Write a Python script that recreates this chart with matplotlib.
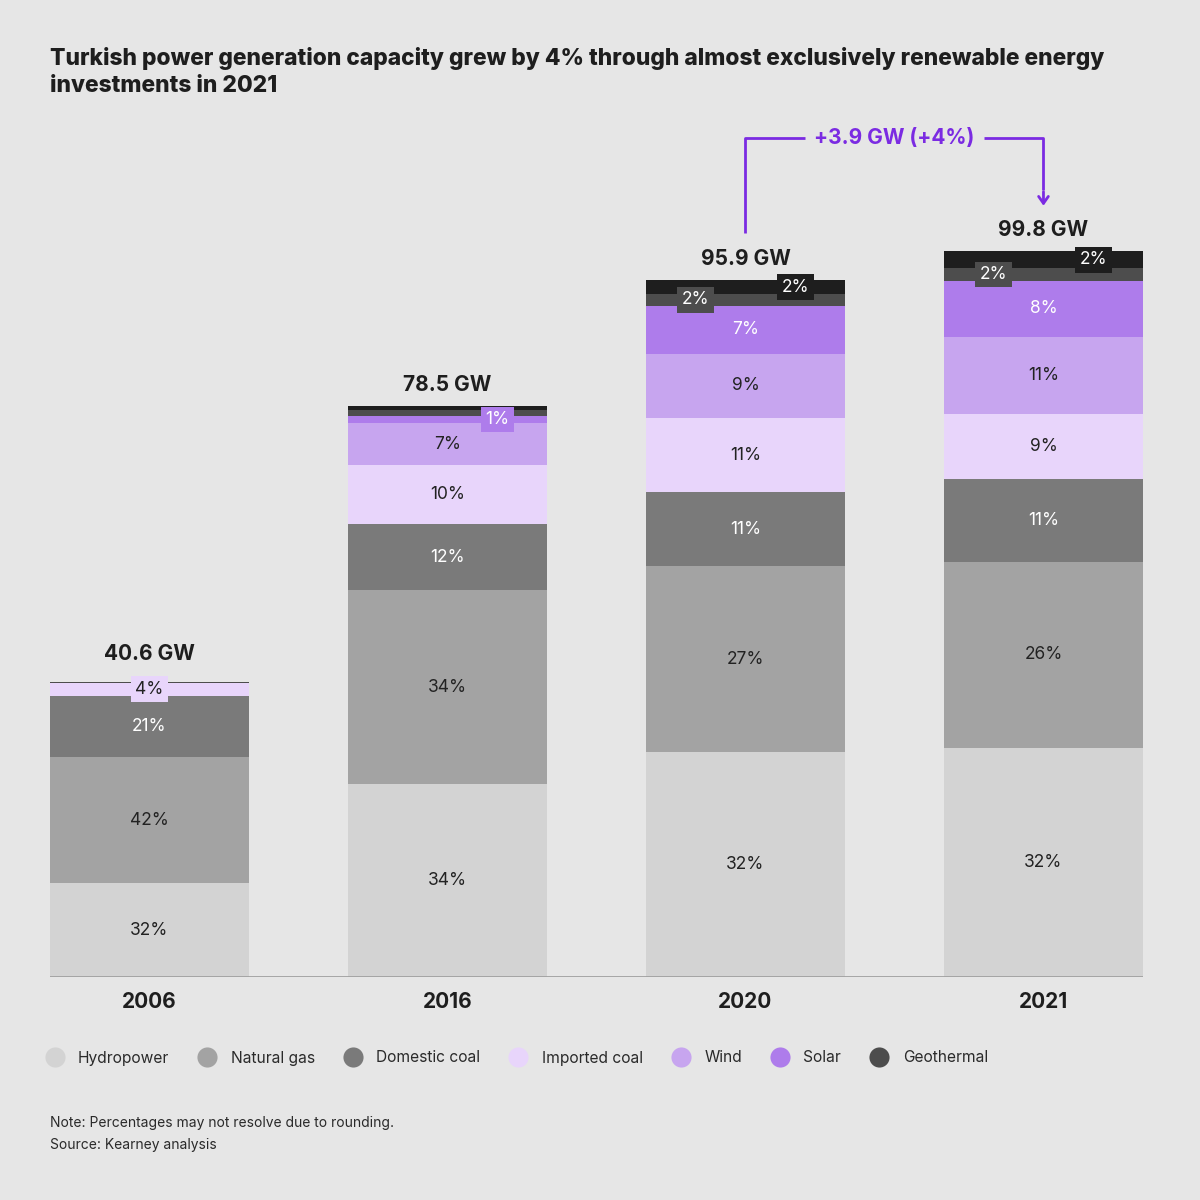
import numpy as np
import matplotlib.pyplot as plt
from matplotlib.lines import Line2D

plt.rcParams['font.family'] = ['Inter', 'DejaVu Sans']

# data (GW)
years = ["2006", "2016", "2020", "2021"]
totals = [40.6, 78.5, 95.9, 99.8]
hydro = [12.9, 26.5, 30.9, 31.5]
gas = [17.3, 26.7, 25.6, 25.6]
dom_coal = [8.5, 9.1, 10.2, 11.4]
imp_coal = [1.75, 8.1, 10.2, 8.9]
wind = [0.05, 5.8, 8.8, 10.6]
solar = [0.0, 0.96, 6.6, 7.8]
geo = [0.02, 0.8, 1.65, 1.7]
other = [0.08, 0.55, 1.9, 2.3]

hydro_lbl = ["32%", "34%", "32%", "32%"]
gas_lbl = ["42%", "34%", "27%", "26%"]
dom_lbl = ["21%", "12%", "11%", "11%"]
imp_lbl = ["4%", "10%", "11%", "9%"]
wind_lbl = ["", "7%", "9%", "11%"]
solar_lbl = ["", "1%", "7%", "8%"]
geo_lbl = ["", "", "2%", "2%"]
other_lbl = ["", "", "2%", "2%"]

legend_names = ["Hydropower", "Natural gas", "Domestic coal", "Imported coal",
                "Wind", "Solar", "Geothermal"]

series = [hydro, gas, dom_coal, imp_coal, wind, solar, geo, other]
labels = [hydro_lbl, gas_lbl, dom_lbl, imp_lbl, wind_lbl, solar_lbl, geo_lbl, other_lbl]
colours = ["#d3d3d3", "#a3a3a3", "#7a7a7a", "#e8d5fb", "#c7a5ef", "#ae7ceb", "#4d4d4d", "#1e1e1e"]
txt_col = ["#222222", "#222222", "white", "#222222", "#222222", "white", "white", "white"]

bg = "#e6e6e6"
purple = "#7b2be2"

fig = plt.figure(figsize=(12, 12), dpi=100, facecolor=bg)
ax = fig.add_axes([50/1200, (1200-977)/1200, 1093/1200, 857/1200])
ax.set_facecolor(bg)

x = np.arange(len(years))
w = 0.668
bottom = np.zeros(len(years))
seg_pos = []
for i, s in enumerate(series):
    s = np.array(s)
    ax.bar(x, s, w, bottom=bottom, color=colours[i], edgecolor='none', zorder=2)
    seg_pos.append(bottom + s / 2)
    bottom = bottom + s

# segment labels; small segments get a coloured box, nudged sideways
for i in range(len(series)):
    for j in range(len(years)):
        lbl = labels[i][j]
        if not lbl:
            continue
        yv = seg_pos[i][j]
        xv = x[j]
        small = series[i][j] < 3
        if small:
            if i == 4 or i == 5 or i == 7:
                xv = x[j] + 0.168
            elif i == 6:
                xv = x[j] - 0.168
            ax.text(xv, yv, lbl, ha='center', va='center', fontsize=12.5,
                    color=txt_col[i], zorder=4,
                    bbox=dict(boxstyle='square,pad=0.25', fc=colours[i], ec='none'))
        else:
            ax.text(xv, yv, lbl, ha='center', va='center', fontsize=12.5,
                    color=txt_col[i], zorder=3)

# totals above bars
for j in range(len(years)):
    off = 13 if j == 0 else 8
    ax.annotate(f"{totals[j]} GW", (x[j], bottom[j]), xytext=(0, off),
                textcoords='offset points', ha='center', va='bottom',
                fontsize=15, fontweight='bold', color='#1e1e1e')

ax.set_xlim(-w/2, len(years) - 1 + w/2)
ax.set_ylim(0, 857/7.27)
ax.axhline(0, color='#a0a0a0', lw=2, zorder=3)
for sp in ax.spines.values():
    sp.set_visible(False)
ax.set_yticks([])
ax.set_xticks(x)
ax.set_xticklabels(years, fontsize=15, fontweight='bold', color='#1e1e1e')
ax.tick_params(axis='x', length=0, pad=11)

# growth bracket 2020 -> 2021
y_br = totals[3] + 15.6
ax.plot([x[2], x[2], x[2] + 0.2], [totals[2] + 6.4, y_br, y_br],
        color=purple, lw=2, solid_capstyle='butt', clip_on=False)
ax.plot([x[3] - 0.2, x[3], x[3]], [y_br, y_br, totals[3] + 8.5],
        color=purple, lw=2, solid_capstyle='butt', clip_on=False)
ax.annotate("", xy=(x[3], totals[3] + 5.9), xytext=(x[3], totals[3] + 8.6),
            arrowprops=dict(arrowstyle='->,head_length=0.5,head_width=0.35',
                            color=purple, lw=2))
ax.text((x[2] + x[3]) / 2, y_br, f"+{totals[3] - totals[2]:.1f} GW (+4%)",
        ha='center', va='center', fontsize=15, fontweight='bold', color=purple)

# title
fig.text(50/1200, 1 - 47/1200,
         "Turkish power generation capacity grew by 4% through almost exclusively renewable energy\ninvestments in 2021",
         ha='left', va='top', fontsize=16.4, fontweight='heavy', color='#1e1e1e',
         linespacing=1.3)

# legend
handles = [Line2D([], [], marker='o', ls='none', markersize=14.5,
                  markerfacecolor=c, markeredgecolor='none') for c in colours[:7]]
fig.legend(handles, legend_names, loc='center left',
           bbox_to_anchor=(46/1200, 1 - 1058/1200), ncol=7, frameon=False,
           fontsize=11.2, handlelength=1.1, handletextpad=0.95, columnspacing=1.9,
           borderpad=0, borderaxespad=0, labelcolor='#2a2a2a')

fig.text(50/1200, 1 - 1123/1200, "Note: Percentages may not resolve due to rounding.",
         ha='left', va='center', fontsize=10, color='#2a2a2a')
fig.text(50/1200, 1 - 1145/1200, "Source: Kearney analysis",
         ha='left', va='center', fontsize=10, color='#2a2a2a')

fig.savefig("out.png", dpi=100, facecolor=bg)
